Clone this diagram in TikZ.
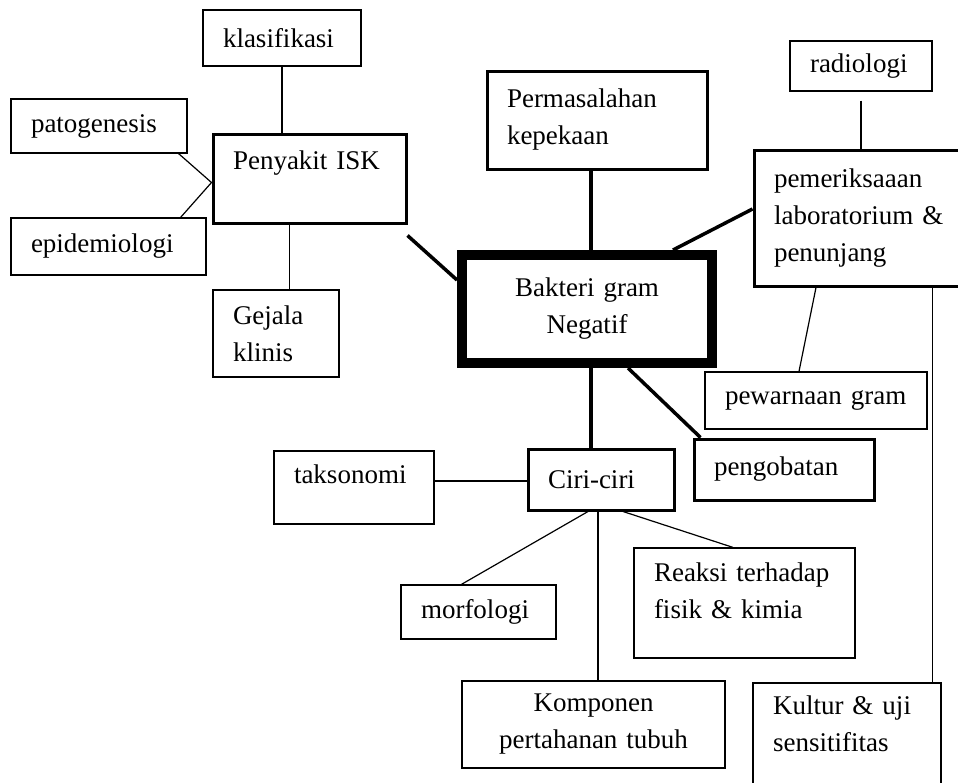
\documentclass[tikz,border=0pt]{standalone}
\usepackage{fontspec}
\setmainfont{Liberation Serif}
\usetikzlibrary{calc}

\begin{document}
\begin{tikzpicture}[x=1pt,y=-1pt,
    kotak/.style={draw,line width=1.2pt,inner xsep=20pt,inner ysep=0pt,align=left,font=\fontsize{27}{37}\selectfont},
    tebal/.style={kotak,line width=3pt},
    garis/.style={line width=1.2pt},
    garistebal/.style={line width=3.5pt}]
  \useasboundingbox (0,0) rectangle (958,782);

  \node[kotak,minimum width=158pt,minimum height=56pt,text width=118pt] (klas) at (282,38) {klasifikasi};
  \node[kotak,minimum width=176pt,minimum height=54pt,text width=136pt] (pato) at (99,126) {patogenesis};
  \node[tebal,minimum width=193pt,minimum height=89pt,text width=153pt,text depth=36pt] (isk) at (309.5,178.5) {Penyakit ISK};
  \node[kotak,minimum width=195pt,minimum height=57pt,text width=155pt] (epid) at (108.5,246.5) {epidemiologi};
  \node[kotak,minimum width=126pt,minimum height=87pt,text width=86pt] (gejala) at (276,333.5) {Gejala\\klinis};
  \node[kotak,line width=10pt,minimum width=250pt,minimum height=108pt,text width=210pt,align=center] (bakteri) at (587,309) {Bakteri gram\\Negatif};
  \node[tebal,minimum width=220pt,minimum height=98pt,text width=180pt] (perma) at (597,120) {Permasalahan\\kepekaan};
  \node[kotak,minimum width=142pt,minimum height=50pt,text width=102pt] (radio) at (861,66) {radiologi};
  \node[tebal,minimum width=221pt,minimum height=136pt,text width=181pt] (lab) at (864.5,218) {pemeriksaaan\\laboratorium \&\\penunjang};
  \node[kotak,minimum width=222pt,minimum height=57pt,text width=182pt] (pewarna) at (816,400.5) {pewarnaan gram};
  \node[tebal,minimum width=180pt,minimum height=61pt,text width=140pt] (obat) at (784,469.5) {pengobatan};
  \node[tebal,minimum width=146pt,minimum height=61pt,text width=106pt] (ciri) at (601,479.5) {Ciri-ciri};
  \node[kotak,minimum width=160pt,minimum height=73pt,text width=120pt,text depth=27pt] (takso) at (354,487.5) {taksonomi};
  \node[kotak,minimum width=155pt,minimum height=54pt,text width=115pt] (morfo) at (478.5,612) {morfologi};
  \node[kotak,minimum width=221pt,minimum height=110pt,text width=181pt,text depth=62pt] (reaksi) at (744.5,603) {Reaksi terhadap\\fisik \& kimia};
  \node[kotak,minimum width=263pt,minimum height=87pt,text width=223pt,align=center] (kompo) at (593.5,724.5) {Komponen\\pertahanan tubuh};
  \node[kotak,minimum width=188pt,minimum height=120pt,text width=148pt,text depth=76pt] (kultur) at (847,743) {Kultur \& uji\\sensitifitas};

  \draw[garis] (klas.south) -- (klas.south |- isk.north);
  \draw[garis] ([xshift=-9pt]pato.south east) -- ([yshift=-4pt]isk.west) -- ([xshift=-26pt]epid.north east);
  \draw[garis] ([xshift=-20pt]isk.south) -- ([xshift=-20pt]isk.south |- gejala.north);
  \draw[garistebal] ([yshift=-11pt]isk.south east) -- ([yshift=29pt]bakteri.west);
  \draw[garistebal] ([xshift=-6pt]perma.south) -- ([xshift=-6pt]perma.south |- bakteri.north);
  \draw[garis] ([yshift=-9pt]radio.south) -- (radio.south |- lab.north);
  \draw[garistebal] ([yshift=9pt]lab.west) -- ([xshift=-44pt]bakteri.north east);
  \draw[garis] ([xshift=-48.5pt]lab.south) -- ([xshift=-17pt]pewarna.north);
  \draw[garis] ([xshift=-9pt]kultur.north east) -- ([xshift=-9pt]kultur.north east |- lab.south);
  \draw[garistebal] ([xshift=41pt]bakteri.south) -- ([xshift=8pt]obat.north west);
  \draw[garistebal] ([xshift=4pt]bakteri.south) -- ([xshift=4pt]bakteri.south |- ciri.north);
  \draw[garis] ([yshift=6.5pt]takso.east) -- ([yshift=6.5pt]takso.east -| ciri.west);
  \draw[garis] ([xshift=-13pt]ciri.south) -- ([xshift=61pt]morfo.north west);
  \draw[garis] ([xshift=-3pt]ciri.south) -- ([xshift=-3pt]ciri.south |- kompo.north);
  \draw[garis] ([xshift=22pt]ciri.south) -- ([xshift=-11.5pt]reaksi.north);
\end{tikzpicture}
\end{document}
